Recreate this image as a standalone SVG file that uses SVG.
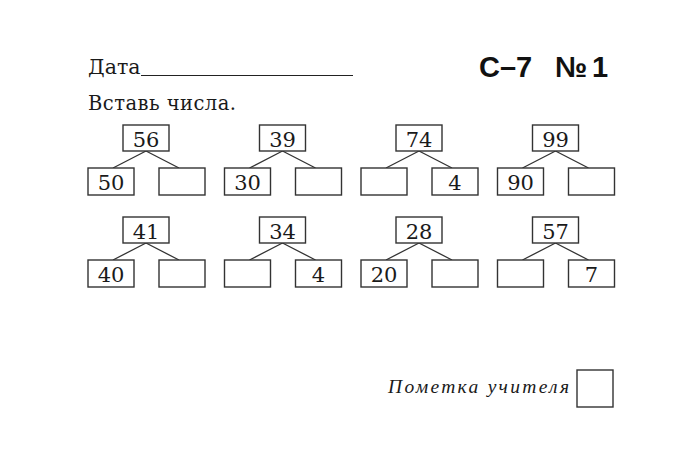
<svg xmlns="http://www.w3.org/2000/svg" width="699" height="466" viewBox="0 0 699 466">
<style>
.box{fill:#fff;stroke:#333;stroke-width:1.4}
.num{font-family:"DejaVu Serif","Liberation Serif",serif;font-size:21px;fill:#1a1a1a;text-anchor:middle}
.ln{stroke:#333;stroke-width:1.3;fill:none}
.hd{font-family:"DejaVu Serif","Liberation Serif",serif;fill:#1a1a1a}
</style>
<rect width="699" height="466" fill="#fff"/>
<g id="header">
<text class="hd" x="88" y="74" font-size="20.5">Дата</text>
<line x1="141" y1="75.5" x2="353" y2="75.5" stroke="#222" stroke-width="1.2"/>
<text x="479" y="77" font-family="'Liberation Sans',Arial,sans-serif" font-weight="bold" font-size="29" fill="#111">С–7<tspan x="555">№</tspan><tspan x="592">1</tspan></text>
<text class="hd" x="88" y="110" font-size="19.5" textLength="148">Вставь числа.</text>
</g>
<g id="connectors">
<path class="ln" d="M146 151L113 168M146 151L179 168"/>
<path class="ln" d="M282.5 151L249.5 168M282.5 151L315.5 168"/>
<path class="ln" d="M419 151L386 168M419 151L452 168"/>
<path class="ln" d="M555.5 151L522.5 168M555.5 151L588.5 168"/>
<path class="ln" d="M146 243L113 260M146 243L179 260"/>
<path class="ln" d="M282.5 243L249.5 260M282.5 243L315.5 260"/>
<path class="ln" d="M419 243L386 260M419 243L452 260"/>
<path class="ln" d="M555.5 243L522.5 260M555.5 243L588.5 260"/>
</g>
<g id="t1">
<rect class="box" x="123" y="125" width="46" height="26"/><text class="num" x="146" y="146.5">56</text>
<rect class="box" x="88" y="168" width="46" height="27"/><text class="num" x="111" y="190">50</text>
<rect class="box" x="159" y="168" width="46" height="27"/>
</g>
<g id="t2">
<rect class="box" x="259.5" y="125" width="46" height="26"/><text class="num" x="282.5" y="146.5">39</text>
<rect class="box" x="224.5" y="168" width="46" height="27"/><text class="num" x="247.5" y="190">30</text>
<rect class="box" x="295.5" y="168" width="46" height="27"/>
</g>
<g id="t3">
<rect class="box" x="396" y="125" width="46" height="26"/><text class="num" x="419" y="146.5">74</text>
<rect class="box" x="361" y="168" width="46" height="27"/>
<rect class="box" x="432" y="168" width="46" height="27"/><text class="num" x="455" y="190">4</text>
</g>
<g id="t4">
<rect class="box" x="532.5" y="125" width="46" height="26"/><text class="num" x="555.5" y="146.5">99</text>
<rect class="box" x="497.5" y="168" width="46" height="27"/><text class="num" x="520.5" y="190">90</text>
<rect class="box" x="568.5" y="168" width="46" height="27"/>
</g>
<g id="t5">
<rect class="box" x="123" y="217" width="46" height="26"/><text class="num" x="146" y="238.5">41</text>
<rect class="box" x="88" y="260" width="46" height="27"/><text class="num" x="111" y="282">40</text>
<rect class="box" x="159" y="260" width="46" height="27"/>
</g>
<g id="t6">
<rect class="box" x="259.5" y="217" width="46" height="26"/><text class="num" x="282.5" y="238.5">34</text>
<rect class="box" x="224.5" y="260" width="46" height="27"/>
<rect class="box" x="295.5" y="260" width="46" height="27"/><text class="num" x="318.5" y="282">4</text>
</g>
<g id="t7">
<rect class="box" x="396" y="217" width="46" height="26"/><text class="num" x="419" y="238.5">28</text>
<rect class="box" x="361" y="260" width="46" height="27"/><text class="num" x="384" y="282">20</text>
<rect class="box" x="432" y="260" width="46" height="27"/>
</g>
<g id="t8">
<rect class="box" x="532.5" y="217" width="46" height="26"/><text class="num" x="555.5" y="238.5">57</text>
<rect class="box" x="497.5" y="260" width="46" height="27"/>
<rect class="box" x="568.5" y="260" width="46" height="27"/><text class="num" x="591.5" y="282">7</text>
</g>
<g id="mark">
<text x="388" y="393" font-family="'Liberation Serif','DejaVu Serif',serif" font-style="italic" font-size="19.5" fill="#1a1a1a" textLength="181">Пометка учителя</text>
<rect class="box" x="577" y="370" width="36" height="37"/>
</g>
</svg>
